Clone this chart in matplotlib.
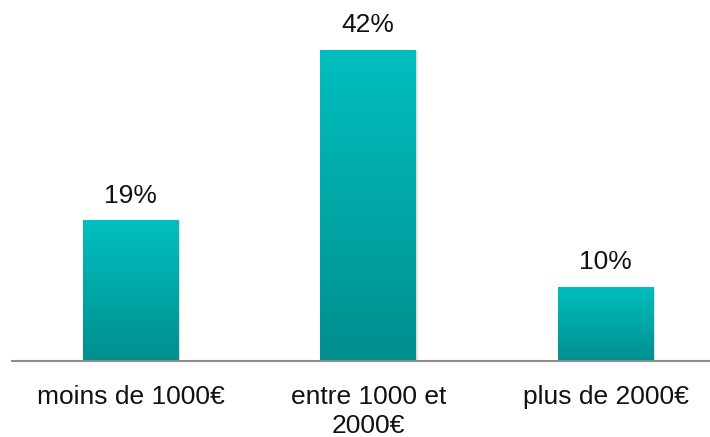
import matplotlib.pyplot as plt
import matplotlib.patheffects as pe
import numpy as np
from matplotlib.colors import LinearSegmentedColormap

categories = ['moins de 1000€', 'entre 1000 et\n2000€', 'plus de 2000€']
values = [19, 42, 10]
labels = ['19%', '42%', '10%']

plt.rcParams['font.family'] = ['Liberation Sans', 'DejaVu Sans']

fig = plt.figure(figsize=(7.1, 4.37), dpi=100)
ax = fig.add_axes([12 / 710, 76 / 437, 698 / 710, 361 / 437])

x = np.arange(len(categories))
width = 0.404
bars = ax.bar(x, values, width=width, color='none', edgecolor='none', zorder=2)

# vertical gradient fill for each bar, with a soft shadow
cmap = LinearSegmentedColormap.from_list('teal', ['#008f8f', '#00bfbf'])
grad = np.linspace(0, 1, 256).reshape(-1, 1)
for b in bars:
    x0, w, h = b.get_x(), b.get_width(), b.get_height()
    shadow = plt.Rectangle((x0, 0), w, h, facecolor='white', edgecolor='none', zorder=1,
                           path_effects=[pe.SimplePatchShadow(offset=(1, -1), shadow_rgbFace='#999999', alpha=0.3)])
    ax.add_patch(shadow)
    im = ax.imshow(grad, cmap=cmap, aspect='auto', origin='lower',
                   extent=(x0, x0 + w, 0, h), zorder=2)
    im.set_clip_path(b)

for xi, v, lab in zip(x, values, labels):
    ax.annotate(lab, (xi, v), xytext=(0, 9), textcoords='offset points',
                ha='center', va='bottom', fontsize=19, color='#111111')

ax.set_xlim(-0.5, 2.439)
ax.set_ylim(0, 48.75)
ax.set_xticks(x)
ax.set_xticklabels(categories, fontsize=19, color='#111111', linespacing=1.3)
ax.tick_params(axis='x', length=0, pad=17)
ax.set_yticks([])
for s in ['top', 'left', 'right']:
    ax.spines[s].set_visible(False)
ax.spines['bottom'].set_color('#8c8c8c')
ax.spines['bottom'].set_linewidth(1.5)

plt.savefig('out.png', dpi=100)
